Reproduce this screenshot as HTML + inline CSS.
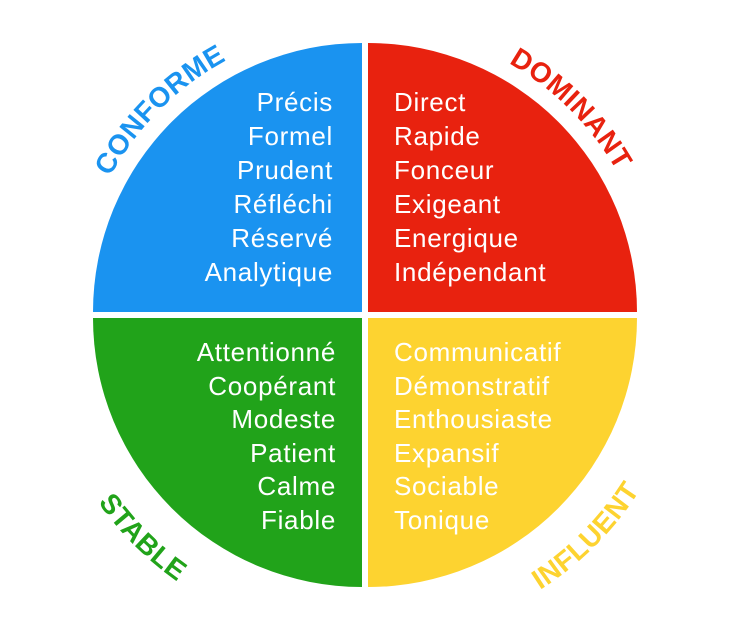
<!DOCTYPE html>
<html><head><meta charset="utf-8"><style>
html,body{margin:0;padding:0;background:#fff;}
svg{display:block;}
text{font-family:"Liberation Sans",Arial,sans-serif;}
.w{fill:#fff;font-size:26px;letter-spacing:0.7px;}
.l{font-size:28px;font-weight:bold;letter-spacing:0.5px;}
</style></head><body>
<svg width="737" height="644" viewBox="0 0 737 644" xmlns="http://www.w3.org/2000/svg">
<defs>
<path id="pc" d="M75,315 A290,290 0 0 1 365,25"/>
<path id="pd" d="M365,25 A290,290 0 0 1 655,315"/>
<path id="ps" d="M39,315 A326,326 0 0 0 365,641"/>
<path id="pi" d="M365,641 A326,326 0 0 0 691,315"/>
</defs>
<path d="M362,312 L93,312 A269,269 0 0 1 362,43 Z" fill="#1a93f0"/>
<path d="M368,312 L368,43 A269,269 0 0 1 637,312 Z" fill="#e8220f"/>
<path d="M368,318 L637,318 A269,269 0 0 1 368,587 Z" fill="#fdd330"/>
<path d="M362,318 L362,587 A269,269 0 0 1 93,318 Z" fill="#21a31a"/>

<text class="l" fill="#1a93f0"><textPath href="#pc" startOffset="50%" text-anchor="middle">CONFORME</textPath></text>
<text class="l" fill="#e8220f"><textPath href="#pd" startOffset="50%" text-anchor="middle">DOMINANT</textPath></text>
<text class="l" fill="#21a31a"><textPath href="#ps" startOffset="50%" text-anchor="middle">STABLE</textPath></text>
<text class="l" fill="#fdd330"><textPath href="#pi" startOffset="50%" text-anchor="middle">INFLUENT</textPath></text>

<g text-anchor="end">
<text class="w" x="333" y="111">Précis</text>
<text class="w" x="333" y="145">Formel</text>
<text class="w" x="333" y="179">Prudent</text>
<text class="w" x="333" y="213">Réfléchi</text>
<text class="w" x="333" y="247">Réservé</text>
<text class="w" x="333" y="281">Analytique</text>
</g>
<g>
<text class="w" x="394" y="111">Direct</text>
<text class="w" x="394" y="145">Rapide</text>
<text class="w" x="394" y="179">Fonceur</text>
<text class="w" x="394" y="213">Exigeant</text>
<text class="w" x="394" y="247">Energique</text>
<text class="w" x="394" y="281">Indépendant</text>
</g>
<g text-anchor="end">
<text class="w" x="336" y="361">Attentionné</text>
<text class="w" x="336" y="395">Coopérant</text>
<text class="w" x="336" y="428">Modeste</text>
<text class="w" x="336" y="462">Patient</text>
<text class="w" x="336" y="495">Calme</text>
<text class="w" x="336" y="529">Fiable</text>
</g>
<g>
<text class="w" x="394" y="361">Communicatif</text>
<text class="w" x="394" y="395">Démonstratif</text>
<text class="w" x="394" y="428">Enthousiaste</text>
<text class="w" x="394" y="462">Expansif</text>
<text class="w" x="394" y="495">Sociable</text>
<text class="w" x="394" y="529">Tonique</text>
</g>
</svg>
</body></html>
